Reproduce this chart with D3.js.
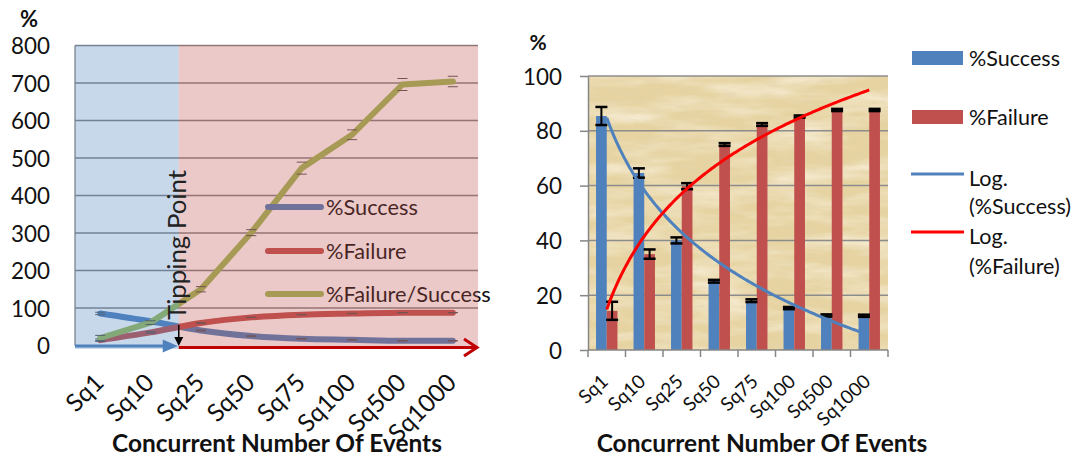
<!DOCTYPE html>
<html><head><meta charset="utf-8">
<script src="https://cdn.jsdelivr.net/npm/d3@7/dist/d3.min.js"></script>
<style>html,body{margin:0;padding:0;background:#fff;}svg{display:block;font-family:Lato,"Open Sans",sans-serif;}</style>
</head><body>
<svg id="chart" width="1078" height="458"></svg>
<script>
// ---------- DATA ----------
const categories = ["Sq1","Sq10","Sq25","Sq50","Sq75","Sq100","Sq500","Sq1000"];
const successPct = [85.4, 64.6, 40.0, 25.1, 18.0, 15.3, 12.6, 12.5];
const failurePct = [14.3, 35.0, 59.8, 75.0, 82.3, 85.2, 87.6, 87.6];
const successErr = [3.3, 1.7, 1.1, 0.5, 0.5, 0.4, 0.4, 0.4];
const failureErr = [3.3, 1.7, 1.1, 0.5, 0.5, 0.4, 0.4, 0.4];
const ratioPct   = [20, 61, 150, 301, 473, 562, 696, 704];
const ratioErr   = [7, 5, 7, 8, 16, 13, 16, 14];
const leftTicks  = [0,100,200,300,400,500,600,700,800];
const rightTicks = [0,20,40,60,80,100];
const leftLegend = ["%Success","%Failure","%Failure/Success"];
const rightLegend = ["%Success","%Failure"];
const trendLegend = [["Log.","(%Success)"],["Log.","(%Failure)"]];

// ---------- HELPERS ----------
const svg = d3.select("#chart");
function fitFont(sel, target){
  const fs = parseFloat(sel.attr("font-size"));
  const len = sel.node().getComputedTextLength();
  return fs*target/len;
}
const C_S="#4F81BD", C_F="#C0504D", C_R="#9BBB59";

// ================= LEFT CHART =================
const xL = d3.scaleBand().domain(categories).range([75,478]);
const yL = d3.scaleLinear().domain([0,800]).range([345.5,45.5]);
const cxL = c => xL(c)+xL.bandwidth()/2;
const L = svg.append("g");

// gridlines
L.selectAll("line.grid").data(leftTicks.filter(d=>d>0)).join("line")
  .attr("x1",75).attr("x2",478).attr("y1",d=>yL(d)).attr("y2",d=>yL(d))
  .attr("stroke","#858585").attr("stroke-width",1.3);
L.append("line").attr("x1",75).attr("x2",75).attr("y1",yL(800)).attr("y2",yL(0))
  .attr("stroke","#858585").attr("stroke-width",1.3);

// y labels
const yAxL = L.append("g").attr("transform","translate(75,0)")
  .call(d3.axisLeft(yL).tickValues(leftTicks).tickSize(0).tickPadding(25));
yAxL.select(".domain").remove();
yAxL.selectAll("text").attr("font-family","Lato").attr("font-size",20).attr("fill","#111");
const fsYL = fitFont(yAxL.selectAll("text").filter(d=>d===800), 39);
yAxL.selectAll("text").attr("font-size",fsYL).attr("dy","0.36em");

// lines
const leftSeries = [
  {vals:successPct, err:successErr, color:C_S, curve:d3.curveMonotoneX},
  {vals:failurePct, err:failureErr, color:C_F, curve:d3.curveMonotoneX},
  {vals:ratioPct, err:ratioErr, color:C_R, curve:d3.curveLinear}
];
leftSeries.forEach(s=>{
  const line = d3.line().x((d,i)=>cxL(categories[i])).y(d=>yL(d)).curve(s.curve);
  L.append("path").attr("d",line(s.vals)).attr("fill","none").attr("stroke",s.color)
    .attr("stroke-width",6).attr("stroke-linecap","round").attr("stroke-linejoin","round");
  const eg = L.append("g").attr("stroke","#555").attr("stroke-width",1);
  s.vals.forEach((v,i)=>{
    const x=cxL(categories[i]), e=s.err[i];
    eg.append("line").attr("x1",x-5).attr("x2",x+5).attr("y1",yL(v+e)).attr("y2",yL(v+e));
    eg.append("line").attr("x1",x-5).attr("x2",x+5).attr("y1",yL(v-e)).attr("y2",yL(v-e));
  });
});

// legend (inside plot)
const legColorsL=[C_S,C_F,C_R];
const legYL=[207,251,294];
const legL = L.append("g");
leftLegend.forEach((t,i)=>{
  legL.append("line").attr("x1",268).attr("x2",321).attr("y1",legYL[i]).attr("y2",legYL[i])
    .attr("stroke",legColorsL[i]).attr("stroke-width",6).attr("stroke-linecap","round");
  legL.append("text").attr("class","lg").attr("x",326).attr("y",legYL[i]).attr("dy","0.35em")
    .attr("font-size",20).attr("fill","#111").text(t);
});
const fsLegL = fitFont(legL.selectAll("text.lg").filter((d,i)=>i===0), 92);
legL.selectAll("text.lg").attr("font-size",fsLegL);

// translucent tipping regions (overlay)
L.append("rect").attr("x",75).attr("y",45).attr("width",xL("Sq25")-75+3).attr("height",304)
  .attr("fill",C_S).attr("opacity",0.31);
L.append("rect").attr("x",xL("Sq25")+3).attr("y",45).attr("width",478-xL("Sq25")-3).attr("height",304)
  .attr("fill",C_F).attr("opacity",0.31);

// arrows
const tipX = xL("Sq25")+3;
L.append("line").attr("x1",75).attr("x2",tipX-14).attr("y1",346).attr("y2",346)
  .attr("stroke","#4F81BD").attr("stroke-width",3);
L.append("path").attr("d",`M${tipX-16},339.5 L${tipX-1},346 L${tipX-16},352.5 Z`).attr("fill","#4F81BD");
L.append("line").attr("x1",tipX).attr("x2",477).attr("y1",347.5).attr("y2",347.5)
  .attr("stroke","#C00000").attr("stroke-width",3);
L.append("path").attr("d",`M464,339 L477,347.5 L464,356`).attr("fill","none")
  .attr("stroke","#C00000").attr("stroke-width",3);
L.append("line").attr("x1",tipX).attr("x2",tipX).attr("y1",325).attr("y2",340)
  .attr("stroke","#000").attr("stroke-width",1.5);
L.append("path").attr("d",`M${tipX-4.5},337 L${tipX},346 L${tipX+4.5},337 Z`).attr("fill","#000");
const tip = L.append("text").attr("transform",`translate(186,245) rotate(-90)`)
  .attr("text-anchor","middle").attr("font-size",20).attr("fill","#222").text("Tipping Point");
tip.attr("font-size",fitFont(tip,150));

// x labels
const xlabL = L.append("g");
categories.forEach(c=>{
  xlabL.append("text").attr("transform",`translate(${cxL(c)-1},378) rotate(-45)`)
    .attr("text-anchor","end").attr("dy","0.35em").attr("font-size",20).attr("fill","#111").text(c);
});
const fsXL = fitFont(xlabL.selectAll("text").filter((d,i)=>i===7), 84);
xlabL.selectAll("text").attr("font-size",fsXL);

// title & unit
const tL = L.append("text").attr("x",277).attr("y",452).attr("text-anchor","middle")
  .attr("font-weight","bold").attr("font-size",20).attr("fill","#111").text("Concurrent Number Of Events");
tL.attr("font-size",fitFont(tL,330));
L.append("text").attr("x",29).attr("y",27).attr("text-anchor","middle").attr("font-weight","bold")
  .attr("font-size",22).attr("fill","#111").text("%");

// ================= RIGHT CHART =================
const xR = d3.scaleBand().domain(categories).range([588,888]);
const yR = d3.scaleLinear().domain([0,100]).range([350,76]);
const bw = xR.bandwidth(), barW = bw/3.5;
const cxR = c => xR(c)+bw/2;
const R = svg.append("g");

// papyrus-like background
const defs = svg.append("defs");
const f = defs.append("filter").attr("id","paper").attr("x",0).attr("y",0).attr("width",1).attr("height",1);
f.append("feTurbulence").attr("type","fractalNoise").attr("baseFrequency","0.012 0.06").attr("numOctaves",4).attr("seed",7).attr("result","n");
f.append("feColorMatrix").attr("in","n").attr("type","matrix")
  .attr("values","0 0 0 0 0.97  0 0 0 0 0.91  0 0 0 0 0.78  1.6 0 0 0 -0.62").attr("result","c");
f.append("feComposite").attr("in","c").attr("in2","SourceGraphic").attr("operator","in");
const f2 = defs.append("filter").attr("id","paper2").attr("x",0).attr("y",0).attr("width",1).attr("height",1);
f2.append("feTurbulence").attr("type","fractalNoise").attr("baseFrequency","0.05 0.2").attr("numOctaves",3).attr("seed",3).attr("result","n");
f2.append("feColorMatrix").attr("in","n").attr("type","matrix")
  .attr("values","0 0 0 0 0.78  0 0 0 0 0.66  0 0 0 0 0.42  1.4 0 0 0 -0.68").attr("result","c");
f2.append("feComposite").attr("in","c").attr("in2","SourceGraphic").attr("operator","in");
R.append("rect").attr("x",588).attr("y",76).attr("width",300).attr("height",274).attr("fill","#E6D3A1");
R.append("rect").attr("x",588).attr("y",76).attr("width",300).attr("height",274).attr("fill","#fff").attr("filter","url(#paper)");
R.append("rect").attr("x",588).attr("y",76).attr("width",300).attr("height",274).attr("fill","#fff").attr("filter","url(#paper2)");

// gridlines
R.selectAll("line.g").data(rightTicks.filter(d=>d>0)).join("line")
  .attr("x1",588).attr("x2",888).attr("y1",d=>yR(d)).attr("y2",d=>yR(d))
  .attr("stroke","#8c8c8c").attr("stroke-width",1.5);

// bars
R.selectAll("rect.s").data(successPct).join("rect")
  .attr("x",(d,i)=>cxR(categories[i])-barW).attr("y",d=>yR(d)).attr("width",barW).attr("height",d=>yR(0)-yR(d))
  .attr("fill","#4F81BD");
R.selectAll("rect.f").data(failurePct).join("rect")
  .attr("x",(d,i)=>cxR(categories[i])).attr("y",d=>yR(d)).attr("width",barW).attr("height",d=>yR(0)-yR(d))
  .attr("fill","#C0504D");
// error bars
function errBars(vals, errs, off){
  const g = R.append("g").attr("stroke","#000").attr("stroke-width",2);
  vals.forEach((v,i)=>{
    const x = cxR(categories[i])+off;
    const y1=yR(v+errs[i]), y2=yR(v-errs[i]);
    g.append("line").attr("x1",x).attr("x2",x).attr("y1",y1).attr("y2",y2);
    g.append("line").attr("x1",x-6).attr("x2",x+6).attr("y1",y1).attr("y2",y1).attr("stroke-width",2.5);
    g.append("line").attr("x1",x-6).attr("x2",x+6).attr("y1",y2).attr("y2",y2).attr("stroke-width",2.5);
  });
}
errBars(successPct, successErr, -barW/2);
errBars(failurePct, failureErr, barW/2);

// logarithmic trendlines (least squares y = a + b ln x, x = 1..n)
function logFit(vals){
  const xs = vals.map((v,i)=>Math.log(i+1));
  const mx = d3.mean(xs), my = d3.mean(vals);
  const b = d3.sum(xs.map((x,i)=>(x-mx)*(vals[i]-my)))/d3.sum(xs.map(x=>(x-mx)*(x-mx)));
  return {a: my-b*mx, b};
}
const tX = d3.scaleLinear().domain([1,categories.length]).range([cxR(categories[0]),cxR(categories[categories.length-1])]);
function trend(vals,color){
  const {a,b} = logFit(vals);
  const ts = d3.range(1,categories.length+0.001,0.05);
  R.append("path").attr("d",d3.line().x(t=>tX(t)).y(t=>yR(a+b*Math.log(t)))(ts))
    .attr("fill","none").attr("stroke",color).attr("stroke-width",3);
}
trend(successPct,"#4F81BD");
trend(failurePct,"#FF0000");

// axes
const yAxR = R.append("g").attr("transform","translate(588,0)")
  .call(d3.axisLeft(yR).tickValues(rightTicks).tickSize(8).tickSizeOuter(0).tickPadding(18));
yAxR.selectAll("path,line").attr("stroke","#868686").attr("stroke-width",1.5);
yAxR.selectAll("text").attr("font-family","Lato").attr("font-size",20).attr("fill","#111");
const fsYR = fitFont(yAxR.selectAll("text").filter(d=>d===100), 39);
yAxR.selectAll("text").attr("font-size",fsYR).attr("dy","0.36em");
R.append("line").attr("x1",588).attr("x2",888).attr("y1",350).attr("y2",350).attr("stroke","#868686").attr("stroke-width",1.5);
R.selectAll("line.bt").data(d3.range(categories.length+1)).join("line")
  .attr("x1",i=>588+i*bw).attr("x2",i=>588+i*bw).attr("y1",350).attr("y2",357)
  .attr("stroke","#868686").attr("stroke-width",1.5);

const xlabR = R.append("g");
categories.forEach(c=>{
  xlabR.append("text").attr("transform",`translate(${cxR(c)-2},378) rotate(-43)`)
    .attr("text-anchor","end").attr("dy","0.35em").attr("font-size",16).attr("fill","#111").text(c);
});
const fsXR = fitFont(xlabR.selectAll("text").filter((d,i)=>i===7), 65);
xlabR.selectAll("text").attr("font-size",fsXR);

const tR = R.append("text").attr("x",762).attr("y",452).attr("text-anchor","middle")
  .attr("font-weight","bold").attr("font-size",20).attr("fill","#111").text("Concurrent Number Of Events");
tR.attr("font-size",fitFont(tR,331));
R.append("text").attr("x",538).attr("y",50).attr("text-anchor","middle").attr("font-weight","bold")
  .attr("font-size",21).attr("fill","#111").text("%");

// right legend
const legR = R.append("g");
const recColors=["#4F81BD","#C0504D"], recY=[58,117];
rightLegend.forEach((t,i)=>{
  legR.append("rect").attr("x",912).attr("y",recY[i]-7).attr("width",51).attr("height",14).attr("fill",recColors[i]);
  legR.append("text").attr("class","lt").attr("x",969).attr("y",recY[i]).attr("dy","0.35em")
    .attr("font-size",20).attr("fill","#111").text(t);
});
const fsLegR = fitFont(legR.select("text.lt"), 91);
legR.selectAll("text.lt").attr("font-size",fsLegR);
const trColors=["#4F81BD","#FF0000"], trY=[174,232], trT=[[178,206],[236,266]];
trendLegend.forEach((t,i)=>{
  legR.append("line").attr("x1",911).attr("x2",964).attr("y1",trY[i]).attr("y2",trY[i])
    .attr("stroke",trColors[i]).attr("stroke-width",3);
  t.forEach((s,j)=>{
    legR.append("text").attr("x",969).attr("y",trT[i][j]).attr("dy","0.35em")
      .attr("font-size",fsLegR).attr("fill","#111").text(s);
  });
});
</script>
</body></html>
